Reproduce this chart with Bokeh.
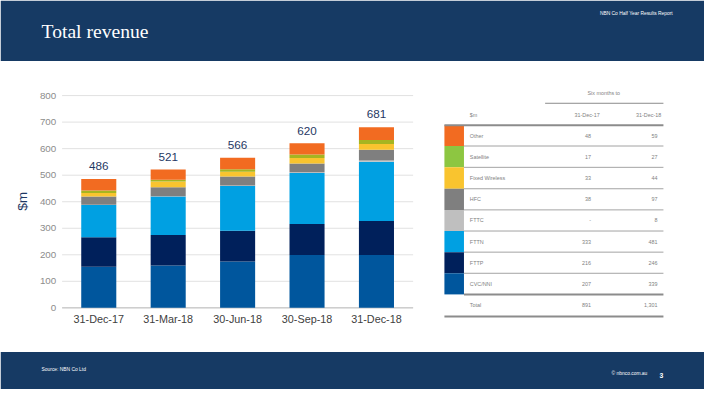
from bokeh.plotting import figure
from bokeh.models import Range1d, ColumnDataSource
from bokeh.embed import file_html
from bokeh.resources import INLINE
from bokeh.core.properties import value

# ---------------- data ----------------
periods = ["31-Dec-17", "31-Mar-18", "30-Jun-18", "30-Sep-18", "31-Dec-18"]
cvc = [155, 160, 175, 199, 199]
fttp = [111, 115, 116, 117, 128]
fttn = [122, 145, 168, 192, 224]
fttc = [1, 1, 2, 3, 4]
hfc = [31, 34, 34, 33, 41]
fixed_wireless = [13, 21, 18, 21, 22]
satellite = [9, 7, 9, 13, 15]
other = [44, 38, 44, 42, 48]
totals = [486, 521, 566, 620, 681]
y_ticks = [0, 100, 200, 300, 400, 500, 600, 700, 800]

table_header = "Six months to"
table_cols = ["31-Dec-17", "31-Dec-18"]
table_rows = ["Other", "Satellite", "Fixed Wireless", "HFC", "FTTC", "FTTN", "FTTP", "CVC/NNI"]
table_17 = ["48", "17", "33", "38", "-", "333", "216", "207"]
table_18 = ["59", "27", "44", "97", "8", "481", "246", "339"]
table_total = ["Total", "891", "1,301"]

series = [cvc, fttp, fttn, fttc, hfc, fixed_wireless, satellite, other]
chart_colors = ["#00569d", "#00205b", "#00a0e2", "#c0c0c0", "#7f7f7f", "#f9c42f", "#a6b521", "#f26b21"]
table_colors = ["#f26b21", "#8dc641", "#f9c42f", "#7f7f7f", "#bfbfbf", "#00a0e2", "#00205b", "#00569d"]

# ---------------- canvas ----------------
W, H = 704, 389
S = W / 720.0
NAVY = "#163a64"

p = figure(width=W, height=H, output_backend="svg", toolbar_location=None,
           x_range=Range1d(0, 720), y_range=Range1d(405, 0), min_border=0)
p.axis.visible = False
p.grid.visible = False
p.outline_line_color = None
p.background_fill_color = "white"
p.border_fill_color = "white"

# chart scales: category i center at slide x = 100.5 + 71*i ; value 0 at y 320, 800 at y 99
px_per_cat = 71.0
x0c = 100.5
p.extra_x_ranges = {"cx": Range1d(-x0c / px_per_cat, (720 - x0c) / px_per_cat)}
k = 221.0 / 800.0
p.extra_y_ranges = {"cy": Range1d((320 - 405) / k, 320 / k)}

# header / footer bands
p.quad(left=[0, 0], right=[720, 720], top=[0, 366], bottom=[63, 405], fill_color=NAVY, line_color=None)
p.text(x=[42], y=[32], text=["Total revenue"], text_font=value("Liberation Serif"),
       text_font_size=f"{20*S:.1f}px", text_color="white", text_baseline="middle")
p.text(x=[613], y=[14], text=["NBN Co Half Year Results Report"], text_font=value("Liberation Sans"),
       text_font_size=f"{5*S:.1f}px", text_color="white", text_baseline="middle")
p.text(x=[42], y=[384], text=["Source: NBN Co Ltd"], text_font=value("Liberation Sans"),
       text_font_size=f"{5*S:.1f}px", text_color="white", text_baseline="middle")
p.text(x=[625], y=[388], text=["© nbnco.com.au"], text_font=value("Liberation Sans"),
       text_font_size=f"{5*S:.1f}px", text_color="white", text_baseline="middle")
p.text(x=[676], y=[390], text=["3"], text_font=value("Liberation Sans"), text_font_style="bold",
       text_font_size=f"{7*S:.1f}px", text_color="white", text_baseline="middle", text_align="center")

# grid lines
p.segment(x0=[63] * len(y_ticks), x1=[422] * len(y_ticks), y0=y_ticks, y1=y_ticks,
          y_range_name="cy", line_color="#d9d9d9", line_width=0.8)
p.segment(x0=[63], x1=[422], y0=[0], y1=[0], y_range_name="cy", line_color="#bfbfbf", line_width=1)
# y tick labels
p.text(x=[57] * len(y_ticks), y=y_ticks, text=[str(t) for t in y_ticks], y_range_name="cy",
       text_font=value("Liberation Sans"), text_font_size=f"{10*S:.1f}px", text_color="#8c8c8c",
       text_align="right", text_baseline="middle")
p.text(x=[22], y=[209], text=["$m"], angle=1.5708, text_font=value("Liberation Sans"),
       text_font_size=f"{14*S:.1f}px", text_color="#1f3864", text_align="center", text_baseline="middle")

# stacked bars
xs = list(range(len(periods)))
bottoms = [0] * len(periods)
for vals, col in zip(series, chart_colors):
    tops = [b + v for b, v in zip(bottoms, vals)]
    p.vbar(x=xs, width=0.505, bottom=bottoms, top=tops, x_range_name="cx", y_range_name="cy",
           fill_color=col, line_color=None)
    bottoms = tops

p.text(x=xs, y=totals, text=[str(t) for t in totals], x_range_name="cx", y_range_name="cy",
       text_font=value("Liberation Sans"), text_font_size=f"{12*S:.1f}px", text_color="#1f3864",
       text_align="center", text_baseline="middle", y_offset=-13 * S)
p.text(x=xs, y=[0] * len(xs), text=periods, x_range_name="cx", y_range_name="cy",
       text_font=value("Liberation Sans"), text_font_size=f"{11*S:.1f}px", text_color="#404040",
       text_align="center", text_baseline="middle", y_offset=11 * S)

# ---------------- table ----------------
TXT = "#7f7f7f"
fs = f"{5.5*S:.1f}px"
row_top = [130, 151.5, 173.7, 196, 218, 240, 262, 284]
row_bot = [151.5, 173.7, 196, 218, 240, 262, 284, 306]
p.quad(left=[454] * 8, right=[474] * 8, top=row_top, bottom=row_bot, fill_color=table_colors, line_color=None)
# separators
p.segment(x0=[557], x1=[678], y0=[107], y1=[107], line_color="#8c8c8c", line_width=1)
p.segment(x0=[474] * 7, x1=[678] * 7, y0=row_bot[:-1], y1=row_bot[:-1], line_color="#8c8c8c", line_width=0.8)
p.segment(x0=[454, 474, 454], x1=[678, 678, 678], y0=[130, 306, 329], y1=[130, 306, 329],
          line_color="#8c8c8c", line_width=2)

p.text(x=[617], y=[96], text=[table_header], text_font=value("Liberation Sans"), text_font_size=fs,
       text_color=TXT, text_align="center", text_baseline="middle")
p.text(x=[480, 587, 650], y=[119, 119, 119], text=["$m"] + table_cols, text_font=value("Liberation Sans"),
       text_font_size=fs, text_color=TXT, text_align="left", text_baseline="middle")
mids = [(a + b) / 2 for a, b in zip(row_top, row_bot)]
p.text(x=[480] * 8, y=mids, text=table_rows, text_font=value("Liberation Sans"), text_font_size=fs,
       text_color=TXT, text_baseline="middle")
p.text(x=[604] * 8, y=mids, text=table_17, text_font=value("Liberation Sans"), text_font_size=fs,
       text_color=TXT, text_align="right", text_baseline="middle")
p.text(x=[672] * 8, y=mids, text=table_18, text_font=value("Liberation Sans"), text_font_size=fs,
       text_color=TXT, text_align="right", text_baseline="middle")
p.text(x=[480, 604, 672], y=[317] * 3, text=table_total, text_font=value("Liberation Sans"), text_font_size=fs,
       text_color=TXT, text_align=["left", "right", "right"], text_baseline="middle")

open("out.html", "w").write(file_html(p, INLINE))
